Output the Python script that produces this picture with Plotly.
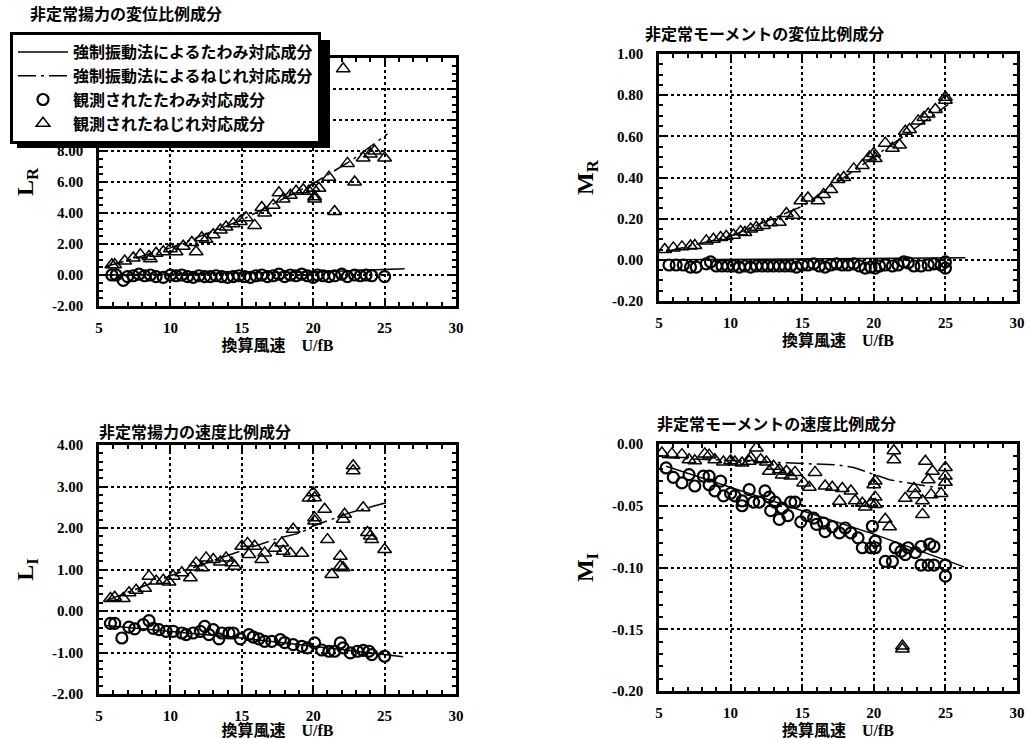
import plotly.graph_objects as go

W, H = 1030, 739

# ---------------- data: 非定常揚力の変位比例成分 (L_R) ----------------
lr_circ_x = [5.9, 6.2, 6.7, 7.0, 7.4, 7.8, 8.2, 8.6, 9.0, 9.5, 10.0, 10.4, 10.8, 11.2, 11.6, 12.0,
             12.4, 12.8, 13.2, 13.6, 14.0, 14.4, 14.8, 15.2, 15.6, 16.0, 16.4, 16.8, 17.2, 17.6,
             18.0, 18.4, 18.8, 19.2, 19.6, 20.0, 20.3, 20.7, 21.1, 21.5, 22.0, 22.4, 22.9, 23.3,
             23.7, 24.1, 25.0]
lr_circ_y = [0.0, 0.0, -0.35, -0.1, -0.05, 0.05, -0.05, 0.0, -0.1, -0.15, 0.0, -0.05, 0.0, -0.1,
             -0.15, -0.05, -0.1, -0.1, -0.05, -0.1, -0.15, -0.1, -0.05, -0.1, -0.15, -0.05, 0.0,
             -0.1, -0.05, 0.05, -0.1, 0.0, -0.05, 0.05, -0.05, -0.15, 0.0, -0.05, -0.1, -0.05,
             0.05, -0.1, 0.0, -0.05, 0.0, -0.05, -0.1]
lr_tri_x = [5.9, 6.1, 6.8, 7.4, 7.9, 8.5, 8.6, 9.0, 9.5, 10.0, 10.4, 10.9, 11.5, 11.8, 12.2, 12.5,
            13.0, 13.5, 13.9, 14.4, 14.9, 15.3, 15.9, 16.4, 16.6, 17.2, 17.6, 17.9, 18.4, 18.8,
            19.3, 19.7, 20.0, 20.1, 20.1, 20.4, 21.1, 21.5, 22.1, 22.4, 22.9, 23.5, 24.0, 24.3, 25.0]
lr_tri_y = [0.66, 0.66, 0.9, 1.1, 1.3, 1.2, 1.05, 1.4, 1.5, 1.7, 1.5, 1.85, 2.1, 1.5, 2.4, 2.3,
            2.6, 2.9, 3.1, 3.3, 3.45, 3.7, 3.2, 4.35, 4.0, 4.5, 5.3, 4.9, 5.15, 5.4,
            5.5, 5.4, 5.6, 5.05, 4.9, 5.6, 6.3, 4.1, 13.3, 7.2, 6.0, 7.55, 7.8, 8.0, 7.55]
lr_solid_x = [5.5, 10, 15, 20, 26.4]
lr_solid_y = [0.0, 0.05, 0.1, 0.2, 0.4]
lr_dash_x = [5.5, 10, 15, 20, 22.7, 25.2]
lr_dash_y = [0.55, 1.75, 3.55, 5.9, 7.4, 9.1]

# ---------------- data: 非定常モーメントの変位比例成分 (M_R) ----------------
mr_circ_x = [5.7, 6.2, 6.7, 7.2, 7.6, 8.3, 8.6, 9.0, 9.4, 9.8, 10.2, 10.6, 11.0, 11.4, 11.8, 12.2,
             12.6, 13.0, 13.4, 13.8, 14.2, 14.6, 15.0, 15.4, 15.8, 16.2, 16.6, 17.0, 17.4, 17.8,
             18.2, 18.6, 19.0, 19.4, 19.8, 20.1, 20.4, 20.8, 21.3, 21.7, 22.1, 22.4, 22.8, 23.3,
             23.8, 24.2, 24.7, 25.0, 25.0]
mr_circ_y = [-0.025, -0.025, -0.025, -0.035, -0.035, -0.02, -0.01, -0.03, -0.03, -0.03, -0.03,
             -0.035, -0.03, -0.035, -0.03, -0.03, -0.03, -0.03, -0.03, -0.03, -0.03, -0.035,
             -0.025, -0.025, -0.02, -0.03, -0.035, -0.025, -0.02, -0.025, -0.025, -0.02, -0.03,
             -0.04, -0.035, -0.04, -0.03, -0.025, -0.03, -0.025, -0.01, -0.015, -0.03, -0.03,
             -0.025, -0.02, -0.025, -0.01, -0.04]
mr_tri_x = [5.4, 6.0, 6.6, 7.2, 7.5, 8.3, 8.8, 9.3, 9.7, 10.2, 10.7, 11.0, 11.4, 11.8, 12.3, 12.8,
            13.4, 13.9, 14.4, 14.9, 15.4, 16.1, 16.5, 17.0, 17.5, 17.9, 18.6, 19.2, 19.7, 20.0,
            20.1, 20.8, 21.3, 21.8, 22.2, 22.5, 23.1, 23.5, 23.8, 24.3, 25.0, 25.0]
mr_tri_y = [0.05, 0.058, 0.063, 0.067, 0.07, 0.092, 0.1, 0.108, 0.113, 0.12, 0.137, 0.133, 0.15,
            0.158, 0.167, 0.18, 0.183, 0.225, 0.217, 0.287, 0.3, 0.287, 0.317, 0.342, 0.39, 0.4,
            0.442, 0.458, 0.5, 0.517, 0.492, 0.567, 0.542, 0.558, 0.625, 0.633, 0.675, 0.692,
            0.708, 0.73, 0.79, 0.775]
mr_solid_x = [5.5, 15, 26.4]
mr_solid_y = [0.0, 0.005, 0.01]
mr_dash_x = [5.5, 10, 15, 20, 22.5, 25.2]
mr_dash_y = [0.04, 0.115, 0.26, 0.5, 0.62, 0.755]

# ---------------- data: 非定常揚力の速度比例成分 (L_I) ----------------
li_circ_x = [5.8, 6.1, 6.6, 7.1, 7.5, 8.1, 8.5, 8.8, 9.2, 9.7, 10.2, 10.8, 11.1, 11.6, 12.1, 12.4,
             12.7, 13.0, 13.4, 13.6, 14.1, 14.4, 14.9, 15.5, 15.8, 16.2, 16.6, 17.1, 17.7, 18.0,
             18.6, 19.2, 19.6, 20.1, 20.6, 21.1, 21.5, 21.9, 22.1, 22.6, 23.1, 23.5, 23.9, 24.1, 25.0]
li_circ_y = [-0.3, -0.3, -0.65, -0.39, -0.43, -0.33, -0.23, -0.42, -0.45, -0.49, -0.49, -0.53,
             -0.57, -0.53, -0.49, -0.37, -0.57, -0.45, -0.67, -0.53, -0.53, -0.53, -0.67, -0.57,
             -0.63, -0.67, -0.73, -0.73, -0.69, -0.76, -0.81, -0.85, -0.89, -0.77, -0.94, -0.97,
             -0.97, -0.77, -0.89, -1.01, -0.97, -0.95, -0.97, -1.05, -1.09]
li_tri_x = [5.8, 6.1, 6.7, 7.1, 7.6, 8.2, 8.5, 9.0, 9.5, 9.9, 10.2, 10.8, 11.4, 11.6, 11.8, 12.2,
            12.5, 13.0, 13.5, 13.9, 14.3, 14.5, 15.0, 15.4, 15.5, 15.9, 16.4, 16.6, 17.3, 17.8,
            17.9, 18.4, 18.6, 19.2, 19.7, 20.0, 20.1, 20.1, 20.1, 20.8, 21.0, 21.3, 21.9, 21.9,
            22.1, 22.2, 22.1, 22.8, 22.8, 23.5, 23.8, 24.0, 24.1, 25.0]
li_tri_y = [0.3, 0.33, 0.3, 0.44, 0.5, 0.55, 0.84, 0.72, 0.74, 0.7, 0.84, 0.92, 0.8, 1.06, 1.16,
            1.04, 1.28, 1.24, 1.18, 1.28, 1.16, 1.08, 1.56, 1.63, 1.36, 1.56, 1.24, 1.4, 1.51,
            1.64, 1.44, 1.39, 1.97, 1.39, 2.72, 2.85, 2.73, 2.25, 2.17, 2.45, 1.72, 0.88, 1.32,
            1.08, 1.04, 2.33, 2.21, 3.5, 3.38, 2.49, 1.89, 1.81, 1.72, 1.48]
li_solid_x = [5.5, 10, 15, 20, 26.3]
li_solid_y = [-0.35, -0.5, -0.65, -0.85, -1.1]
li_dash_x = [5.5, 10, 13.7, 17.6, 19.1, 20.0, 22.6, 25.2]
li_dash_y = [0.25, 0.85, 1.3, 1.76, 1.88, 2.05, 2.37, 2.62]

# ---------------- data: 非定常モーメントの速度比例成分 (M_I) ----------------
mi_circ_x = [5.5, 6.0, 6.6, 7.1, 7.5, 8.1, 8.5, 8.5, 8.9, 9.3, 9.5, 10.0, 10.3, 10.8, 10.8, 11.3,
             11.6, 12.0, 12.4, 12.7, 12.8, 13.1, 13.4, 13.6, 14.0, 14.2, 14.5, 14.9, 15.3, 15.8,
             16.0, 16.5, 16.6, 17.1, 17.6, 18.0, 18.4, 18.9, 19.2, 19.8, 19.9, 20.1, 20.1, 20.8,
             21.3, 21.5, 21.9, 22.2, 22.4, 22.9, 23.3, 23.3, 23.8, 23.9, 24.2, 24.2, 25.0, 25.0]
mi_circ_y = [-0.0194, -0.027, -0.0315, -0.0248, -0.034, -0.026, -0.026, -0.033, -0.038, -0.030,
             -0.042, -0.040, -0.042, -0.046, -0.050, -0.037, -0.047, -0.047, -0.038, -0.043,
             -0.054, -0.047, -0.061, -0.052, -0.058, -0.047, -0.047, -0.063, -0.058, -0.060,
             -0.065, -0.064, -0.071, -0.067, -0.072, -0.068, -0.072, -0.076, -0.084, -0.084,
             -0.0666, -0.0787, -0.084, -0.095, -0.095, -0.084, -0.087, -0.0895, -0.084, -0.088,
             -0.083, -0.098, -0.098, -0.081, -0.083, -0.098, -0.098, -0.107]
mi_tri_x = [5.2, 5.9, 6.6, 7.1, 7.5, 8.2, 8.5, 8.9, 9.5, 10.0, 10.3, 10.8, 11.3, 11.8, 11.4, 12.1,
            12.5, 13.0, 12.7, 13.4, 13.6, 13.9, 14.2, 14.5, 15.1, 15.5, 15.9, 16.6, 17.1, 17.6,
            17.8, 18.4, 18.7, 19.2, 19.4, 19.8, 20.1, 20.1, 20.0, 20.1, 20.8, 21.1, 21.4, 21.4,
            22.2, 22.8, 22.9, 23.4, 23.4, 23.6, 23.8, 24.1, 24.0, 24.7, 25.0, 25.0, 25.0, 22.0, 22.0]
mi_tri_y = [-0.0073, -0.008, -0.0086, -0.0127, -0.0135, -0.008, -0.009, -0.0127, -0.0146,
            -0.0135, -0.0146, -0.0154, -0.014, -0.0032, -0.011, -0.0127, -0.0146, -0.018, -0.022,
            -0.0208, -0.025, -0.022, -0.026, -0.023, -0.0315, -0.035, -0.023, -0.034, -0.035,
            -0.0464, -0.036, -0.038, -0.046, -0.048, -0.051, -0.048, -0.049, -0.043, -0.033,
            -0.030, -0.061, -0.067, -0.0055, -0.0127, -0.044, -0.036, -0.041, -0.046, -0.057,
            -0.014, -0.029, -0.022, -0.041, -0.040, -0.019, -0.026, -0.031, -0.1636, -0.166]
mi_solid_x = [5.5, 10, 14.8, 20, 26.3]
mi_solid_y = [-0.018, -0.035, -0.053, -0.073, -0.0995]
mi_dash_x = [5.2, 13.0, 17.5, 18.6, 20.1, 21.1, 24.7]
mi_dash_y = [-0.011, -0.015, -0.017, -0.019, -0.025, -0.029, -0.036]

# ---------------- ticks / labels ----------------
x_tickvals = [5, 10, 15, 20, 25, 30]
x_ticktext = ["5", "10", "15", "20", "25", "30"]
# labels 10, 12, 14 are hidden behind the legend box in the reference
lr_tickvals = [-2, 0, 2, 4, 6, 8, 10, 12, 14]
lr_ticktext = ["-2.00", "0.00", "2.00", "4.00", "6.00", "8.00", "", "", ""]
mr_tickvals = [-0.2, 0, 0.2, 0.4, 0.6, 0.8, 1.0]
mr_ticktext = ["-0.20", "0.00", "0.20", "0.40", "0.60", "0.80", "1.00"]
li_tickvals = [-2, -1, 0, 1, 2, 3, 4]
li_ticktext = ["-2.00", "-1.00", "0.00", "1.00", "2.00", "3.00", "4.00"]
mi_tickvals = [-0.2, -0.15, -0.1, -0.05, 0]
mi_ticktext = ["-0.20", "-0.15", "-0.10", "-0.05", "0.00"]

panel_titles = ["非定常揚力の変位比例成分", "非定常モーメントの変位比例成分",
                "非定常揚力の速度比例成分", "非定常モーメントの速度比例成分"]
y_titles = ["L<sub>R</sub>", "M<sub>R</sub>", "L<sub>I</sub>", "M<sub>I</sub>"]
x_title = "換算風速　U/fB"
legend_names = ["強制振動法によるたわみ対応成分", "強制振動法によるねじれ対応成分",
                "観測されたたわみ対応成分", "観測されたねじれ対応成分"]

# ---------------- layout helpers ----------------
def px(x):
    return x / W

def py(y):
    return 1 - y / H

SERIF = "Liberation Serif, Noto Sans CJK JP"
JP = "Noto Sans CJK JP"

panels = [
    dict(sx=lr_solid_x, sy=lr_solid_y, dx=lr_dash_x, dy=lr_dash_y, cx=lr_circ_x, cy=lr_circ_y,
         tx=lr_tri_x, ty=lr_tri_y, yr=[-2, 14], tv=lr_tickvals, tt=lr_ticktext, minor=0.5,
         xdom=(99, 456), ydom=(58, 306), title_pos=(28, 13)),
    dict(sx=mr_solid_x, sy=mr_solid_y, dx=mr_dash_x, dy=mr_dash_y, cx=mr_circ_x, cy=mr_circ_y,
         tx=mr_tri_x, ty=mr_tri_y, yr=[-0.2, 1.0], tv=mr_tickvals, tt=mr_ticktext, minor=0.05,
         xdom=(659, 1017), ydom=(54, 301), title_pos=(643, 33)),
    dict(sx=li_solid_x, sy=li_solid_y, dx=li_dash_x, dy=li_dash_y, cx=li_circ_x, cy=li_circ_y,
         tx=li_tri_x, ty=li_tri_y, yr=[-2, 4], tv=li_tickvals, tt=li_ticktext, minor=0.2,
         xdom=(99, 456), ydom=(445, 694), title_pos=(97, 431)),
    dict(sx=mi_solid_x, sy=mi_solid_y, dx=mi_dash_x, dy=mi_dash_y, cx=mi_circ_x, cy=mi_circ_y,
         tx=mi_tri_x, ty=mi_tri_y, yr=[-0.2, 0.0], tv=mi_tickvals, tt=mi_ticktext, minor=0.01,
         xdom=(659, 1017), ydom=(444, 691), title_pos=(655, 423)),
]

fig = go.Figure()
layout_axes = {}
annotations = []

for i, p in enumerate(panels):
    n = "" if i == 0 else str(i + 1)
    xa, ya = "x" + n, "y" + n
    show = i == 0
    fig.add_trace(go.Scatter(x=p["sx"], y=p["sy"], mode="lines", name=legend_names[0],
                             line=dict(color="black", width=1.5), xaxis=xa, yaxis=ya,
                             showlegend=show, legendgroup="a"))
    fig.add_trace(go.Scatter(x=p["dx"], y=p["dy"], mode="lines", name=legend_names[1],
                             line=dict(color="black", width=1.5, dash="18px,5px,3px,5px"),
                             xaxis=xa, yaxis=ya, showlegend=show, legendgroup="b"))
    fig.add_trace(go.Scatter(x=p["cx"], y=p["cy"], mode="markers", name=legend_names[2],
                             marker=dict(symbol="circle-open", size=11, color="black",
                                         line=dict(width=2.2, color="black")),
                             xaxis=xa, yaxis=ya, showlegend=show, legendgroup="c"))
    fig.add_trace(go.Scatter(x=p["tx"], y=p["ty"], mode="markers", name=legend_names[3],
                             marker=dict(symbol="triangle-up-open", size=12, color="black",
                                         line=dict(width=1.5, color="black")),
                             xaxis=xa, yaxis=ya, showlegend=show, legendgroup="d"))

    common = dict(showline=True, linecolor="black", linewidth=2.5, mirror="ticks",
                  ticks="inside", ticklen=6, tickwidth=1.5, tickcolor="black",
                  showgrid=True, gridcolor="black", gridwidth=1.5, griddash="dot",
                  zeroline=False, automargin=False,
                  tickfont=dict(family="Liberation Serif", size=15, color="black", weight="bold"))
    layout_axes["xaxis" + n] = dict(
        common, domain=[px(p["xdom"][0]), px(p["xdom"][1])], anchor=ya,
        range=[5, 30], tickmode="array", tickvals=x_tickvals, ticktext=x_ticktext,
        ticklabelstandoff=6,
        minor=dict(ticks="inside", ticklen=4, tickwidth=1.5, tickcolor="black",
                   tickmode="linear", tick0=5, dtick=1, showgrid=False),
        title=dict(text=x_title, standoff=2,
                   font=dict(family=SERIF, size=16, color="black", weight="bold")))
    layout_axes["yaxis" + n] = dict(
        common, domain=[py(p["ydom"][1]), py(p["ydom"][0])], anchor=xa,
        range=p["yr"], tickmode="array", tickvals=p["tv"], ticktext=p["tt"],
        ticklabelstandoff=10,
        minor=dict(ticks="inside", ticklen=4, tickwidth=1.5, tickcolor="black",
                   tickmode="linear", tick0=p["yr"][0], dtick=p["minor"], showgrid=False),
        title=dict(text=y_titles[i], standoff=12,
                   font=dict(family="Liberation Serif", size=24, color="black", weight="bold")))
    annotations.append(dict(text=panel_titles[i], xref="paper", yref="paper",
                            x=px(p["title_pos"][0]), y=py(p["title_pos"][1]),
                            xanchor="left", yanchor="middle", showarrow=False,
                            font=dict(family=JP, size=16, color="black", weight="bold")))

# legend drop shadow (offset to lower right of the legend box)
shapes = [dict(type="rect", xref="paper", yref="paper", layer="above",
               x0=px(17), x1=px(330), y0=py(148), y1=py(40),
               fillcolor="black", line=dict(width=0))]

fig.update_layout(
    width=W, height=H,
    margin=dict(l=0, r=0, t=0, b=0),
    paper_bgcolor="white", plot_bgcolor="white",
    showlegend=True,
    legend=dict(x=px(10), y=py(32), xanchor="left", yanchor="top",
                bgcolor="white", bordercolor="black", borderwidth=3,
                itemwidth=50, tracegroupgap=0,
                font=dict(family=SERIF, size=16, color="black", weight="bold")),
    annotations=annotations,
    shapes=shapes,
    **layout_axes,
)

fig.write_html("out.html", config={"displayModeBar": False},
               post_script="document.body.style.margin='0';")
